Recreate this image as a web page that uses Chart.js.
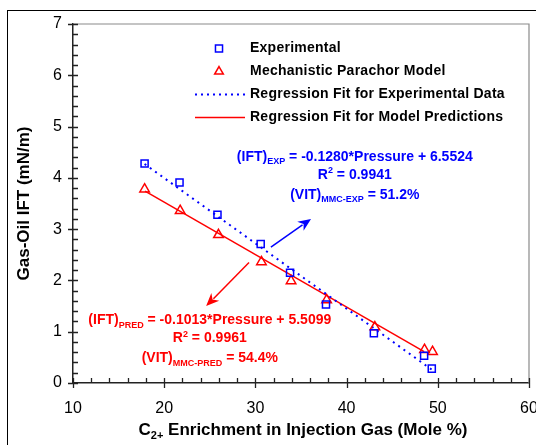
<!DOCTYPE html>
<html>
<head>
<meta charset="utf-8">
<script src="https://cdn.jsdelivr.net/npm/chart.js@4.4.0/dist/chart.umd.min.js"></script>
<style>
    html, body { margin: 0; padding: 0; background: #fff; }
    #wrap { width: 536px; height: 445px; }
</style>
</head>
<body>
<div id="wrap"><canvas id="iftChart" width="536" height="445"></canvas></div>
<script>
// ---- data ----
const enrichExp  = [17.85, 21.68, 25.84, 30.58, 33.80, 37.74, 42.99, 48.50, 49.34];
const iftExp     = [4.28, 3.91, 3.28, 2.71, 2.15, 1.53, 0.97, 0.53, 0.28];
const enrichPred = [17.85, 21.75, 25.95, 30.66, 33.91, 37.81, 43.10, 48.54, 49.42];
const iftPred    = [3.78, 3.36, 2.89, 2.36, 1.99, 1.62, 1.09, 0.65, 0.61];
const fitExpX  = [17.85, 49.34];
const fitExpY  = [4.27, 0.26];
const fitPredX = [17.9, 48.5];
const fitPredY = [3.74, 0.61];
const xTickLabels = [10, 20, 30, 40, 50, 60];
const yTickLabels = [0, 1, 2, 3, 4, 5, 6, 7];

const BLUE = '#0000ff';
const RED = '#ff0000';
const FONT = "'Liberation Sans', Arial, sans-serif";

const pts = (xs, ys) => xs.map((x, i) => ({ x, y: ys[i] }));

const legendItems = [
    { text: 'Experimental', kind: 'point', style: 'rect', color: BLUE },
    { text: 'Mechanistic Parachor Model', kind: 'point', style: 'triangle', color: RED },
    { text: 'Regression Fit for Experimental Data', kind: 'line', dash: [2, 4], color: BLUE },
    { text: 'Regression Fit for Model Predictions', kind: 'line', dash: [], color: RED },
];

// annotation blocks, anchored in data units
const notes = [
    {
        color: BLUE, x: 40.9, y: 4.41,
        lines: [
            [{ t: '(IFT)' }, { t: 'EXP', sub: true }, { t: ' = -0.1280*Pressure + 6.5524' }],
            [{ t: 'R' }, { t: '2', sup: true }, { t: ' = 0.9941' }],
            [{ t: '(VIT)' }, { t: 'MMC-EXP', sub: true }, { t: ' = 51.2%' }],
        ],
        arrow: { from: [31.7, 2.65], to: [36.1, 3.2] }
    },
    {
        color: RED, x: 25.0, y: 1.22,
        lines: [
            [{ t: '(IFT)' }, { t: 'PRED', sub: true }, { t: ' = -0.1013*Pressure + 5.5099' }],
            [{ t: 'R' }, { t: '2', sup: true }, { t: ' = 0.9961' }],
            [{ t: '(VIT)' }, { t: 'MMC-PRED', sub: true }, { t: ' = 54.4%' }],
        ],
        arrow: { from: [29.3, 2.35], to: [24.6, 1.5] }
    }
];

function drawRich(ctx, parts, cx, cy, size) {
    const big = `bold ${size}px ${FONT}`;
    const small = `bold ${Math.round(size * 0.62)}px ${FONT}`;
    let w = 0;
    parts.forEach(p => { ctx.font = (p.sub || p.sup) ? small : big; w += ctx.measureText(p.t).width; });
    let x = cx - w / 2;
    ctx.textBaseline = 'middle';
    ctx.textAlign = 'left';
    parts.forEach(p => {
        ctx.font = (p.sub || p.sup) ? small : big;
        const dy = p.sub ? size * 0.35 : p.sup ? -size * 0.3 : 0;
        ctx.fillText(p.t, x, cy + dy);
        x += ctx.measureText(p.t).width;
    });
}

function drawArrow(ctx, x1, y1, x2, y2, color) {
    const ang = Math.atan2(y2 - y1, x2 - x1);
    const head = 13, half = 5.5;
    ctx.strokeStyle = color;
    ctx.fillStyle = color;
    ctx.lineWidth = 1.5;
    ctx.beginPath();
    ctx.moveTo(x1, y1);
    ctx.lineTo(x2 - Math.cos(ang) * head * 0.8, y2 - Math.sin(ang) * head * 0.8);
    ctx.stroke();
    ctx.beginPath();
    ctx.moveTo(x2, y2);
    ctx.lineTo(x2 - Math.cos(ang) * head + Math.sin(ang) * half, y2 - Math.sin(ang) * head - Math.cos(ang) * half);
    ctx.lineTo(x2 - Math.cos(ang) * head * 0.7, y2 - Math.sin(ang) * head * 0.7);
    ctx.lineTo(x2 - Math.cos(ang) * head - Math.sin(ang) * half, y2 - Math.sin(ang) * head + Math.cos(ang) * half);
    ctx.closePath();
    ctx.fill();
}

const decorPlugin = {
    id: 'decor',
    afterDraw(chart) {
        const { ctx, chartArea: a, scales: { x, y } } = chart;
        ctx.save();

        // outer frame
        ctx.strokeStyle = '#000';
        ctx.lineWidth = 1;
        ctx.strokeRect(7.5, 10.5, 700, 700);

        // top / right plot border
        ctx.strokeStyle = '#8a8a8a';
        ctx.lineWidth = 1.2;
        ctx.beginPath();
        ctx.moveTo(a.left, a.top);
        ctx.lineTo(a.right, a.top);
        ctx.lineTo(a.right, a.bottom);
        ctx.stroke();

        // tick marks
        ctx.strokeStyle = '#222';
        ctx.lineWidth = 1.3;
        ctx.beginPath();
        for (let v = 10; v <= 60.001; v += 2) {
            const px = Math.round(x.getPixelForValue(v)) + 0.5;
            const major = Math.abs(v % 10) < 0.01;
            ctx.moveTo(px, a.bottom - 5);
            ctx.lineTo(px, a.bottom + (major ? 5 : 0));
        }
        for (let k = 0; k <= 35; k++) {
            const v = k * 0.2;
            const py = Math.round(y.getPixelForValue(v)) + 0.5;
            const major = k % 5 === 0;
            ctx.moveTo(a.left - (major ? 5 : 0), py);
            ctx.lineTo(a.left + 5, py);
        }
        ctx.stroke();

        // legend
        legendItems.forEach((it, i) => {
            const ly = 48.5 + i * 23;
            if (it.kind === 'point') {
                ctx.fillStyle = '#fff';
                ctx.strokeStyle = it.color;
                ctx.lineWidth = 1.5;
                Chart.helpers.drawPoint(ctx, {
                    pointStyle: it.style, radius: 5, borderWidth: 1.5, rotation: 0
                }, 219, ly);
            } else {
                ctx.strokeStyle = it.color;
                ctx.lineWidth = it.dash.length ? 2 : 1.5;
                ctx.setLineDash(it.dash);
                ctx.beginPath();
                ctx.moveTo(195, ly);
                ctx.lineTo(245, ly);
                ctx.stroke();
                ctx.setLineDash([]);
            }
            ctx.fillStyle = '#000';
            ctx.font = `bold 14px ${FONT}`;
            ctx.letterSpacing = '0.25px';
            ctx.textAlign = 'left';
            ctx.textBaseline = 'middle';
            ctx.fillText(it.text, 250, ly);
            ctx.letterSpacing = '0px';
        });

        // annotations
        notes.forEach(n => {
            const cx = x.getPixelForValue(n.x);
            const cy = y.getPixelForValue(n.y);
            ctx.fillStyle = n.color;
            drawRich(ctx, n.lines[0], cx, cy, 14);
            drawRich(ctx, n.lines[1], cx, cy + 18, 14);
            drawRich(ctx, n.lines[2], cx, cy + 38, 14);
            drawArrow(ctx,
                x.getPixelForValue(n.arrow.from[0]), y.getPixelForValue(n.arrow.from[1]),
                x.getPixelForValue(n.arrow.to[0]), y.getPixelForValue(n.arrow.to[1]), n.color);
        });

        // x axis title with subscript
        ctx.fillStyle = '#000';
        drawRich(ctx, [{ t: 'C' }, { t: '2+', sub: true }, { t: ' Enrichment in Injection Gas (Mole %)' }],
            303, 430, 17);

        ctx.restore();
    }
};

new Chart(document.getElementById('iftChart'), {
    type: 'scatter',
    data: {
        datasets: [
            {
                label: 'Experimental',
                data: pts(enrichExp, iftExp),
                pointStyle: 'rect', pointRadius: 5, pointBorderWidth: 1.5,
                borderColor: BLUE, backgroundColor: 'transparent', order: 1
            },
            {
                label: 'Mechanistic Parachor Model',
                data: pts(enrichPred, iftPred),
                pointStyle: 'triangle', pointRadius: 5.5, pointBorderWidth: 1.5,
                borderColor: RED, backgroundColor: 'transparent', order: 1
            },
            {
                type: 'line',
                label: 'Regression Fit for Experimental Data',
                data: pts(fitExpX, fitExpY),
                borderColor: BLUE, borderWidth: 2, borderDash: [2, 4.5],
                pointRadius: 0, fill: false, order: 2
            },
            {
                type: 'line',
                label: 'Regression Fit for Model Predictions',
                data: pts(fitPredX, fitPredY),
                borderColor: RED, borderWidth: 1.5,
                pointRadius: 0, fill: false, order: 2
            }
        ]
    },
    options: {
        responsive: false,
        animation: false,
        devicePixelRatio: 1,
        layout: { padding: { top: 24, right: 5, left: 0, bottom: 0 } },
        plugins: { legend: { display: false }, tooltip: { enabled: false } },
        scales: {
            x: {
                type: 'linear', min: 10, max: 60,
                afterBuildTicks: s => { s.ticks = xTickLabels.map(v => ({ value: v })); },
                afterFit: s => { s.height = 62; s.paddingLeft = 0; s.paddingRight = 0; },
                grid: { display: false, drawTicks: false },
                border: { display: true, color: '#222', width: 1.5 },
                ticks: { padding: 16, color: '#000', maxRotation: 0, font: { family: FONT, size: 16 } }
            },
            y: {
                min: 0, max: 7,
                afterBuildTicks: s => { s.ticks = yTickLabels.map(v => ({ value: v })); },
                afterFit: s => { s.width = 73; s.paddingTop = 0; s.paddingBottom = 0; },
                grid: { display: false, drawTicks: false },
                border: { display: true, color: '#222', width: 1.5 },
                ticks: { padding: 11, color: '#000', font: { family: FONT, size: 16 } },
                title: {
                    display: true, text: 'Gas-Oil IFT (mN/m)', color: '#000',
                    font: { family: FONT, size: 17, weight: 'bold' },
                    padding: { top: 14, bottom: 0 }
                }
            }
        }
    },
    plugins: [decorPlugin]
});
</script>
</body>
</html>
